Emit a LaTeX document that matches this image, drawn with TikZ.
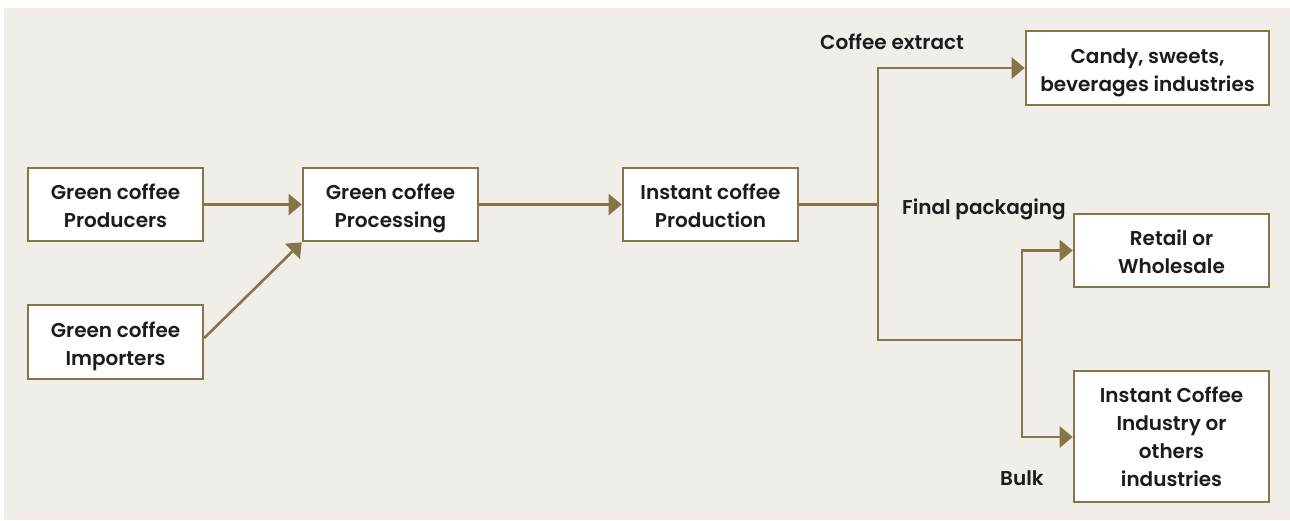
\documentclass[tikz,border=0pt]{standalone}
\usepackage{fontspec}
\setmainfont{Poppins}[BoldFont={Poppins SemiBold}]
\usetikzlibrary{arrows.meta}
\definecolor{bg}{HTML}{F1EEEA}
\definecolor{olive}{HTML}{857548}
\definecolor{txt}{HTML}{1C1C1C}
\begin{document}
\begin{tikzpicture}[x=1pt,y=-1pt,
  box/.style={draw=olive,line width=2.6pt,fill=white,text=txt,align=center,
    font=\fontsize{20}{28}\selectfont\bfseries,inner sep=0pt,
    text height=46pt,text depth=0pt},
  lbl/.style={text=txt,font=\fontsize{20}{28}\selectfont\bfseries,inner sep=0pt},
  conn/.style={draw=olive,line width=2.6pt},
  arr/.style={conn,-{Triangle[length=13pt,width=21pt]}}]
\useasboundingbox (0,0) rectangle (1290,520);
\fill[bg] (4,8) rectangle (1290,520);
\node[box,minimum width=175pt,minimum height=73pt] (prod) at (115.5,204.5) {Green coffee\\Producers};
\node[box,minimum width=175pt,minimum height=74pt] (imp) at (115.5,342) {Green coffee\\Importers};
\node[box,minimum width=175pt,minimum height=73pt] (proc) at (390.5,204.5) {Green coffee\\Processing};
\node[box,minimum width=175pt,minimum height=73pt] (inst) at (710.5,204.5) {Instant coffee\\Production};
\node[box,minimum width=243pt,minimum height=74pt] (candy) at (1147.5,68) {Candy, sweets,\\beverages industries};
\node[box,minimum width=195pt,minimum height=73pt] (retail) at (1171.5,250.5) {Retail or\\Wholesale};
\node[box,minimum width=195pt,minimum height=131pt,text height=99pt] (ind) at (1171.5,436.5) {Instant Coffee\\Industry or\\others\\industries};
\node[lbl,anchor=west] (lce) at (820,42) {Coffee extract};
\node[lbl,anchor=west] (lfp) at (902,209) {Final packaging};
\node[lbl,anchor=west] (lbk) at (1000,478) {Bulk};
\coordinate (s1) at (878,204.5);
\coordinate (s2) at (878,340);
\coordinate (s3) at (1022,340);
\draw[arr] (prod.east) -- (proc.west);
\draw[arr] (imp.east |- 0,338) -- (proc.south west);
\draw[arr] (proc.east) -- (inst.west);
\draw[conn] (inst.east) -- (s1) -- (s2) -- (s3);
\draw[arr] (s1) |- (candy.west);
\draw[arr] (s3) |- (retail.west);
\draw[arr] (s3) |- (ind.west |- 0,437);
\end{tikzpicture}
\end{document}
